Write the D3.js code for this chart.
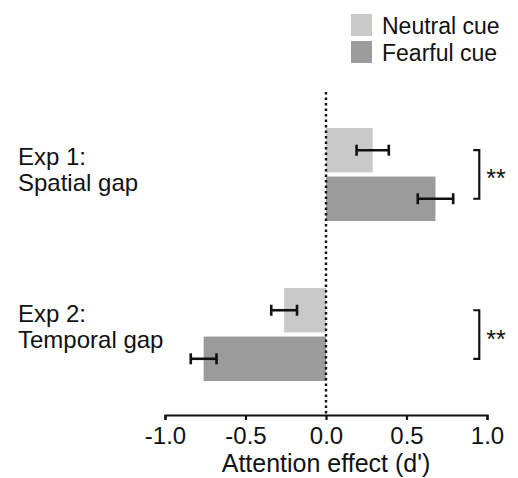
<!DOCTYPE html>
<html>
<head>
<meta charset="utf-8">
<script src="https://cdn.jsdelivr.net/npm/d3@7"></script>
<style>
	body { margin: 0; background: #fff; }
	svg text { font-family: "Liberation Sans", Arial, Helvetica, sans-serif; fill: #111; }
</style>
</head>
<body>
<script>
// DATA
var experiments = ["Exp 1", "Exp 2"]
var expLabels = [["Exp 1:", "Spatial gap"], ["Exp 2:", "Temporal gap"]]
var cues = ["Neutral cue", "Fearful cue"]
var neutralMean = [0.29, -0.26]
var neutralErr = [0.10, 0.08]
var fearfulMean = [0.68, -0.76]
var fearfulErr = [0.11, 0.08]
var significance = ["**", "**"]
var xTicks = [-1.0, -0.5, 0.0, 0.5, 1.0]
var xTitle = "Attention effect (d')"

// CONFIG
var config = {
	width: 518,
	height: 478,
	fontSize: 24,
	labelShift: [-9.5, -12.5], // first line baseline relative to band middle
	colors: { "Neutral cue": "#c9c9c9", "Fearful cue": "#9b9b9b" }
}

var svg = d3.select("body").append("svg")
	.attr("width", config.width)
	.attr("height", config.height)

var x = d3.scaleLinear().domain([-1, 1]).range([165, 487])

var y = d3.scaleBand().domain(experiments).range([128, 381]).paddingInner(0.419).paddingOuter(0)
var yInner = d3.scaleBand().domain(cues).range([0, y.bandwidth()]).paddingInner(0.085)

// rows of data
var rows = []
experiments.forEach(function(e, i) {
	rows.push({ exp: e, cue: cues[0], mean: neutralMean[i], err: neutralErr[i] })
	rows.push({ exp: e, cue: cues[1], mean: fearfulMean[i], err: fearfulErr[i] })
})

// bars
svg.append("g").selectAll("rect").data(rows).enter().append("rect")
	.attr("x", function(d) { return x(Math.min(0, d.mean)) })
	.attr("y", function(d) { return y(d.exp) + yInner(d.cue) })
	.attr("width", function(d) { return Math.abs(x(d.mean) - x(0)) })
	.attr("height", yInner.bandwidth())
	.attr("fill", function(d) { return config.colors[d.cue] })

// zero line (dotted)
svg.append("line")
	.attr("x1", x(0)).attr("x2", x(0))
	.attr("y1", 92).attr("y2", 415)
	.attr("stroke", "#111")
	.attr("stroke-width", 2.4)
	.attr("stroke-dasharray", "2.5,3")

// error bars
var eb = svg.append("g").selectAll("g").data(rows).enter().append("g")
	.attr("transform", function(d) { return "translate(0," + (y(d.exp) + yInner(d.cue) + yInner.bandwidth() / 2) + ")" })
	.attr("stroke", "#111")
	.attr("stroke-width", 2.6)
eb.append("line")
	.attr("x1", function(d) { return x(d.mean - d.err) })
	.attr("x2", function(d) { return x(d.mean + d.err) })
eb.append("line")
	.attr("x1", function(d) { return x(d.mean - d.err) })
	.attr("x2", function(d) { return x(d.mean - d.err) })
	.attr("y1", -5.5).attr("y2", 5.5)
eb.append("line")
	.attr("x1", function(d) { return x(d.mean + d.err) })
	.attr("x2", function(d) { return x(d.mean + d.err) })
	.attr("y1", -5.5).attr("y2", 5.5)

// significance brackets
experiments.forEach(function(e, i) {
	var y1 = y(e) + yInner(cues[0]) + yInner.bandwidth() / 2
	var y2 = y(e) + yInner(cues[1]) + yInner.bandwidth() / 2
	var bx = x(0.952)
	svg.append("path")
		.attr("d", "M" + (bx - 6) + "," + y1 + "H" + bx + "V" + y2 + "H" + (bx - 6))
		.attr("fill", "none")
		.attr("stroke", "#111")
		.attr("stroke-width", 2.2)
	svg.append("text")
		.attr("x", bx + 7)
		.attr("y", (y1 + y2) / 2 + 13)
		.attr("font-size", 25)
		.text(significance[i])
})

// x axis
var axis = svg.append("g")
	.attr("transform", "translate(0,415)")
	.call(d3.axisBottom(x).tickValues(xTicks).tickFormat(d3.format(".1f")).tickSizeInner(5).tickSizeOuter(5).tickPadding(7))
axis.select(".domain").attr("stroke", "#111").attr("stroke-width", 2.2)
axis.selectAll(".tick line").attr("stroke", "#111").attr("stroke-width", 2.2)
axis.selectAll(".tick text")
	.attr("font-size", config.fontSize)
	.attr("font-family", null)
	.attr("fill", "#111")
	.text(function(d) { return d3.format(".1f")(d).replace("−", "-") })

svg.append("text")
	.attr("x", x(0))
	.attr("y", 472)
	.attr("text-anchor", "middle")
	.attr("font-size", 25)
	.text(xTitle)

// experiment labels
experiments.forEach(function(e, i) {
	var mid = y(e) + y.bandwidth() / 2
	var t = svg.append("text")
		.attr("x", 18)
		.attr("font-size", config.fontSize)
	t.append("tspan").attr("x", 18).attr("y", mid + config.labelShift[i]).text(expLabels[i][0])
	t.append("tspan").attr("x", 18).attr("y", mid + config.labelShift[i] + 26).text(expLabels[i][1])
})

// legend
var lg = svg.append("g").selectAll("g").data(cues).enter().append("g")
	.attr("transform", function(d, i) { return "translate(351," + (14 + i * 27) + ")" })
lg.append("rect")
	.attr("width", 21).attr("height", 22)
	.attr("fill", function(d) { return config.colors[d] })
lg.append("text")
	.attr("x", 31).attr("y", 20)
	.attr("font-size", 23)
	.text(function(d) { return d })
</script>
</body>
</html>
